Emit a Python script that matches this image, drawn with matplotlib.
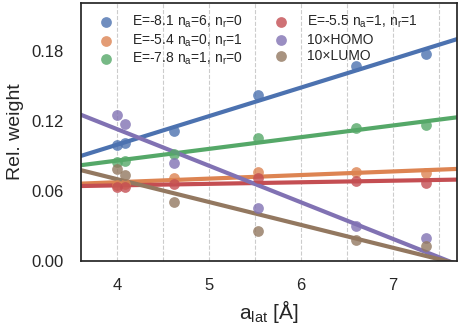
import numpy as np
import matplotlib.pyplot as plt
import seaborn as sns
from matplotlib.ticker import MultipleLocator

# lattice constants and relative weights
a_lat = [4.0, 4.09, 4.62, 5.54, 6.60, 7.36]
w_blue = [0.0994, 0.1014, 0.111, 0.1423, 0.1666, 0.1774]
w_orange = [0.0655, 0.066, 0.0709, 0.0766, 0.076, 0.0752]
w_green = [0.0851, 0.0857, 0.0914, 0.1057, 0.1137, 0.1166]
w_red = [0.0635, 0.0635, 0.066, 0.0709, 0.0686, 0.0671]
w_homo = [0.1251, 0.1171, 0.0837, 0.0457, 0.030, 0.0194]
w_lumo = [0.0789, 0.0737, 0.0509, 0.0257, 0.018, 0.0131]

labels = [r'E=-8.1 n$_a$=6, n$_r$=0',
          r'E=-5.4 n$_a$=0, n$_r$=1',
          r'E=-7.8 n$_a$=1, n$_r$=0',
          r'E=-5.5 n$_a$=1, n$_r$=1',
          '10×HOMO',
          '10×LUMO']
series = [w_blue, w_orange, w_green, w_red, w_homo, w_lumo]

sns.set_theme(style='white', context='notebook')
plt.rcParams['font.family'] = ['Liberation Sans', 'DejaVu Sans']
plt.rcParams['mathtext.default'] = 'regular'

colors = sns.color_palette('deep')

fig = plt.figure(figsize=(4.6, 3.3), dpi=100)
ax = fig.add_axes([0.176, 0.209, 0.8175, 0.782])

xlim = (3.61, 7.70)
xs = np.array(xlim)
for i, (w, lab) in enumerate(zip(series, labels)):
    ax.scatter(a_lat, w, s=60, color=colors[i], alpha=0.8, label=lab, linewidths=0, zorder=3)
    k, b = np.polyfit(a_lat, w, 1)
    ax.plot(xs, k * xs + b, color=colors[i], lw=3, zorder=2)

ax.set_xlim(*xlim)
ax.set_ylim(0, 0.221)
ax.set_yticks([0.0, 0.06, 0.12, 0.18])
ax.set_yticklabels(['0.00', '0.06', '0.12', '0.18'])
ax.set_xticks([4, 5, 6, 7])
ax.xaxis.set_minor_locator(MultipleLocator(0.5))
ax.grid(True, axis='x', which='both', ls='--', color='#cccccc', lw=0.8)
ax.tick_params(axis='both', which='both', length=0, labelsize=12)
ax.tick_params(axis='x', pad=12)
ax.tick_params(axis='y', pad=12.5)

ax.set_xlabel(r'a$_{lat}$ [Å]', fontsize=15, labelpad=4)
ax.set_ylabel('Rel. weight', fontsize=14, labelpad=5)

ax.legend(ncol=2, loc='upper left', frameon=False, fontsize=10,
          handletextpad=0.85, columnspacing=1.75, labelspacing=0.15,
          borderaxespad=0.4, scatterpoints=1)

for s in ax.spines.values():
    s.set_color('#262626')

fig.savefig('out.png', dpi=100)
